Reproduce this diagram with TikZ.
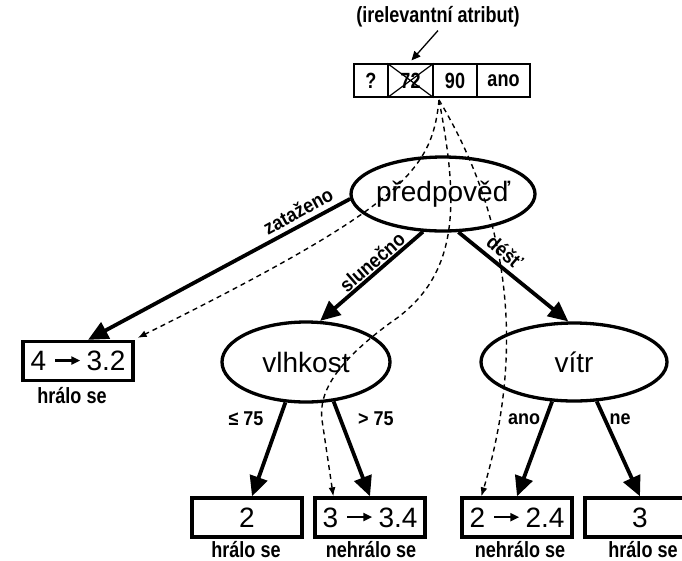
\documentclass[tikz,border=0pt]{standalone}
\usepackage{fontspec}
\setmainfont{Liberation Sans}
\newfontfamily\narrowsans[FakeStretch=0.82]{Liberation Sans}
\newfontfamily\edgesans[FakeStretch=0.9]{Liberation Sans}
\usetikzlibrary{arrows.meta,shapes.geometric}

% short arrow used inside the leaf boxes ("old -> new" counts)
\newcommand\leafarrow{\hspace{8pt}\tikz[baseline=-0.36em]\draw[line width=2.4pt,-{Triangle[length=9pt,width=8pt]}] (0pt,0pt) -- (25pt,0pt);\hspace{5pt}}

\begin{document}
\begin{tikzpicture}[x=1pt,y=-1pt,
  attr/.style={ellipse,draw,line width=3.3pt,inner sep=0pt,font=\fontsize{28}{32}\selectfont},
  leaf/.style={draw,line width=3.3pt,minimum width=110pt,minimum height=39pt,inner sep=0pt,font=\fontsize{28}{32}\selectfont},
  cell/.style={draw,line width=1.2pt,minimum height=33pt,inner sep=0pt,font=\narrowsans\bfseries\fontsize{22}{24}\selectfont},
  lbl/.style={font=\narrowsans\bfseries\fontsize{22}{24}\selectfont,inner sep=0pt},
  elbl/.style={font=\edgesans\bfseries\fontsize{20}{22}\selectfont,inner sep=0pt},
  branch/.style={line width=3.8pt,-{Triangle[length=20pt,width=18pt]}},
  trace/.style={line width=1.4pt,dash pattern=on 5pt off 4pt,-{Latex[length=9pt,width=7pt]}},
]
\useasboundingbox (0,0) rectangle (682,560);
\clip (0,0) rectangle (682,560);

% example record
\node[cell,minimum width=34pt] (c1) at (371,80.5) {?};
\node[cell,minimum width=45pt] (c2) at (410.5,80.5) {72};
\node[cell,minimum width=44pt] (c3) at (455,80.5) {90};
\node[cell,minimum width=53pt] (c4) at (503.5,80.5) {ano};
\draw[line width=1.2pt] (c2.north west) -- (c2.south east) (c2.north east) -- (c2.south west);
\node[lbl] (note) at (438,17) {(irelevantní atribut)};
\draw[line width=1.3pt,-{Triangle[length=9pt,width=8pt]}] ([yshift=-3pt]note.south) -- ([xshift=1pt,yshift=3pt]c2.north);

% decision nodes
\node[attr,minimum width=184pt,minimum height=74pt,inner xsep=-6pt] (p) at (443,194) {předpověď};
\node[attr,minimum width=168pt,minimum height=80pt] (vl) at (306,362) {vlhkost};
\node[attr,minimum width=186pt,minimum height=78pt] (vi) at (574,362) {vítr};

% leaves
\node[leaf] (l1) at (78,361) {4\leafarrow3.2};
\node[leaf] (l2) at (247,517.5) {2};
\node[leaf] (l3) at (370,517.5) {3\leafarrow3.4};
\node[leaf] (l4) at (517,517.5) {2\leafarrow2.4};
\node[leaf] (l5) at (640,517.5) {3};

\node[lbl,anchor=base] (t1) at ([xshift=-6pt,yshift=-21pt]l1.south) {hrálo se};
\node[lbl,anchor=base] (t2) at ([xshift=-1pt,yshift=-19pt]l2.south) {hrálo se};
\node[lbl,anchor=base] (t3) at ([xshift=1pt,yshift=-19pt]l3.south) {nehrálo se};
\node[lbl,anchor=base] (t4) at ([xshift=3pt,yshift=-19pt]l4.south) {nehrálo se};
\node[lbl,anchor=base] (t5) at ([xshift=3pt,yshift=-19pt]l5.south) {hrálo se};

% branches
\draw[branch] (p.183) -- ([xshift=10pt]l1.north);
\draw[branch] (p.242) -- (vl.71);
\draw[branch] (p.292) -- (vi.98);
\draw[branch] (vl.243) -- ([xshift=5pt]l2.north);
\draw[branch] (vl.305) -- (l3.north);
\draw[branch] (vi.241) -- (l4.north);
\draw[branch] (vi.300) -- (l5.north);

% branch labels
\node[elbl,rotate=28.8] (e1) at (298,211) {zataženo};
\node[elbl,rotate=41.2] (e2) at (372,262) {slunečno};
\node[elbl,rotate=-40.8] (e3) at (505,252) {déšť};
\node[elbl,anchor=base] (e4) at (246,425) {≤ 75};
\node[elbl,anchor=base] (e5) at (376,425) {> 75};
\node[elbl,anchor=base] (e6) at (524,424) {ano};
\node[elbl,anchor=base] (e7) at (620,424) {ne};

% the example is passed down every branch of the ignored attribute
\coordinate (src) at (439,100);
\draw[trace] (src) .. controls (432,170) and (405,205) .. ([xshift=3pt,yshift=2pt]l1.north east);
\draw[trace] (src) .. controls (458,200) and (462,275) .. (390,323)
  .. controls (340,360) and (318,390) .. (322,420) -- ([xshift=20pt]l3.north west);
\draw[trace] (src) .. controls (505,210) and (528,340) .. ([xshift=21pt]l4.north west);
\end{tikzpicture}
\end{document}
